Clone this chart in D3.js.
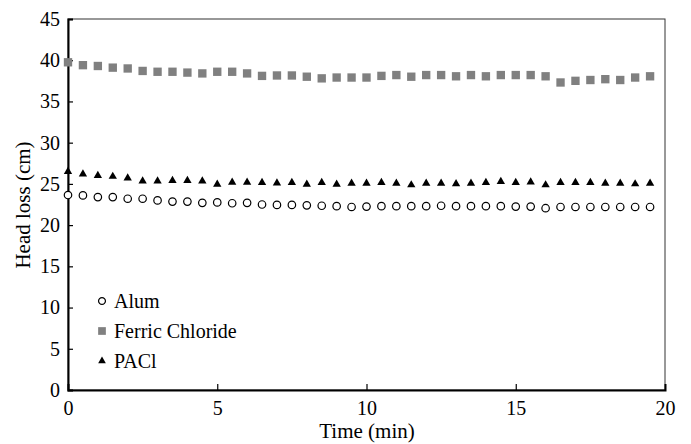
<!DOCTYPE html>
<html>
<head>
<meta charset="utf-8">
<script src="https://cdn.jsdelivr.net/npm/d3@7"></script>
<style>
	body { margin: 0; background: #fff; }
</style>
</head>
<body>
<svg id="chart" width="691" height="444"></svg>
<script>

/* head loss chart */

const time = [0, 0.5, 1, 1.5, 2, 2.5, 3, 3.5, 4, 4.5, 5, 5.5, 6, 6.5, 7, 7.5, 8, 8.5, 9, 9.5,
	10, 10.5, 11, 11.5, 12, 12.5, 13, 13.5, 14, 14.5, 15, 15.5, 16, 16.5, 17, 17.5, 18, 18.5, 19, 19.5];

const alum = [23.65, 23.6, 23.4, 23.4, 23.2, 23.2, 23.0, 22.85, 22.85, 22.7, 22.75, 22.65, 22.7, 22.5, 22.45, 22.45, 22.4, 22.35, 22.3, 22.2,
	22.25, 22.3, 22.3, 22.3, 22.3, 22.35, 22.3, 22.3, 22.3, 22.3, 22.25, 22.25, 22.05, 22.2, 22.2, 22.2, 22.2, 22.2, 22.2, 22.2];

const ferric = [39.75, 39.4, 39.3, 39.1, 39.0, 38.7, 38.6, 38.6, 38.5, 38.4, 38.6, 38.6, 38.4, 38.1, 38.15, 38.15, 38.0, 37.8, 37.9, 37.9,
	37.9, 38.1, 38.2, 38.0, 38.2, 38.2, 38.05, 38.2, 38.05, 38.2, 38.2, 38.2, 38.05, 37.3, 37.5, 37.6, 37.7, 37.6, 37.9, 38.05];

const pacl = [26.5, 26.2, 26.0, 25.9, 25.7, 25.35, 25.35, 25.4, 25.4, 25.35, 24.95, 25.2, 25.2, 25.15, 25.1, 25.15, 24.95, 25.15, 24.95, 25.07,
	25.07, 25.15, 25.07, 24.87, 25.07, 25.07, 25.0, 25.07, 25.15, 25.27, 25.15, 25.23, 24.87, 25.15, 25.15, 25.15, 25.07, 25.07, 24.99, 25.07];

const xTicks = [0, 5, 10, 15, 20];
const yTicks = [0, 5, 10, 15, 20, 25, 30, 35, 40, 45];
const seriesNames = ["Alum", "Ferric Chloride", "PACl"];

const series = [
	{name: seriesNames[0], values: alum, symbol: d3.symbolCircle, size: 44, fill: "#fff", stroke: "#000"},
	{name: seriesNames[1], values: ferric, symbol: d3.symbolSquare, size: 70, fill: "#808080", stroke: "none"},
	{name: seriesNames[2], values: pacl, symbol: d3.symbolTriangle, size: 30, fill: "#000", stroke: "none"}
];

const serif = '"Liberation Serif", "Times New Roman", "DejaVu Serif", serif';
const mLeft = 68, mRight = 665, mTop = 19, mBottom = 390;

const x = d3.scaleLinear().domain([0, 20]).range([mLeft, mRight]);
const y = d3.scaleLinear().domain([0, 45]).range([mBottom, mTop]);

const svg = d3.select("#chart");

// frame (top/right thin)
svg.append("rect")
	.attr("x", mLeft).attr("y", mTop)
	.attr("width", mRight - mLeft).attr("height", mBottom - mTop)
	.attr("fill", "none")
	.attr("stroke", "#333")
	.attr("stroke-width", 1);

// y axis
const yAxis = svg.append("g")
	.attr("transform", `translate(${mLeft},0)`)
	.call(d3.axisLeft(y).tickValues(yTicks).tickSize(-5).tickPadding(8));
yAxis.attr("font-family", null).attr("font-size", null);
yAxis.select(".domain").attr("stroke", "#000").attr("stroke-width", 2);
yAxis.selectAll(".tick line").attr("stroke", "#000").attr("stroke-width", 1.2);
yAxis.selectAll(".tick text").style("font-family", serif).style("font-size", "20px").attr("fill", "#000");

// x axis
const xAxis = svg.append("g")
	.attr("transform", `translate(0,${mBottom})`)
	.call(d3.axisBottom(x).tickValues(xTicks).tickSize(-6).tickPadding(11));
xAxis.attr("font-family", null).attr("font-size", null);
xAxis.select(".domain").attr("stroke", "#000").attr("stroke-width", 2);
xAxis.selectAll(".tick line").attr("stroke", "#000").attr("stroke-width", 1.2)
	.attr("display", d => (d === 0 || d === 20) ? "none" : null);
xAxis.selectAll(".tick text").style("font-family", serif).style("font-size", "20px").attr("fill", "#000");

// titles
svg.append("text")
	.attr("x", 367).attr("y", 438)
	.attr("text-anchor", "middle")
	.style("font-family", serif).style("font-size", "21px")
	.text("Time (min)");

svg.append("text")
	.attr("transform", "translate(30,205) rotate(-90)")
	.attr("text-anchor", "middle")
	.style("font-family", serif).style("font-size", "21px")
	.text("Head loss (cm)");

// points
series.forEach(s => {
	svg.append("g").selectAll("path")
		.data(s.values)
		.join("path")
		.attr("transform", (d, i) => `translate(${x(time[i])},${y(d)})`)
		.attr("d", d3.symbol().type(s.symbol).size(s.size))
		.attr("fill", s.fill)
		.attr("stroke", s.stroke)
		.attr("stroke-width", 1.2);
});

// legend
const legend = svg.append("g").attr("transform", "translate(102,301)");
series.forEach((s, i) => {
	const row = legend.append("g").attr("transform", `translate(0,${i * 30})`);
	row.append("path")
		.attr("d", d3.symbol().type(s.symbol).size(s.size * 0.85))
		.attr("fill", s.fill)
		.attr("stroke", s.stroke)
		.attr("stroke-width", 1.2);
	row.append("text")
		.attr("x", 12).attr("y", 7)
		.style("font-family", serif).style("font-size", "20px")
		.text(s.name);
});
</script>
</body>
</html>
